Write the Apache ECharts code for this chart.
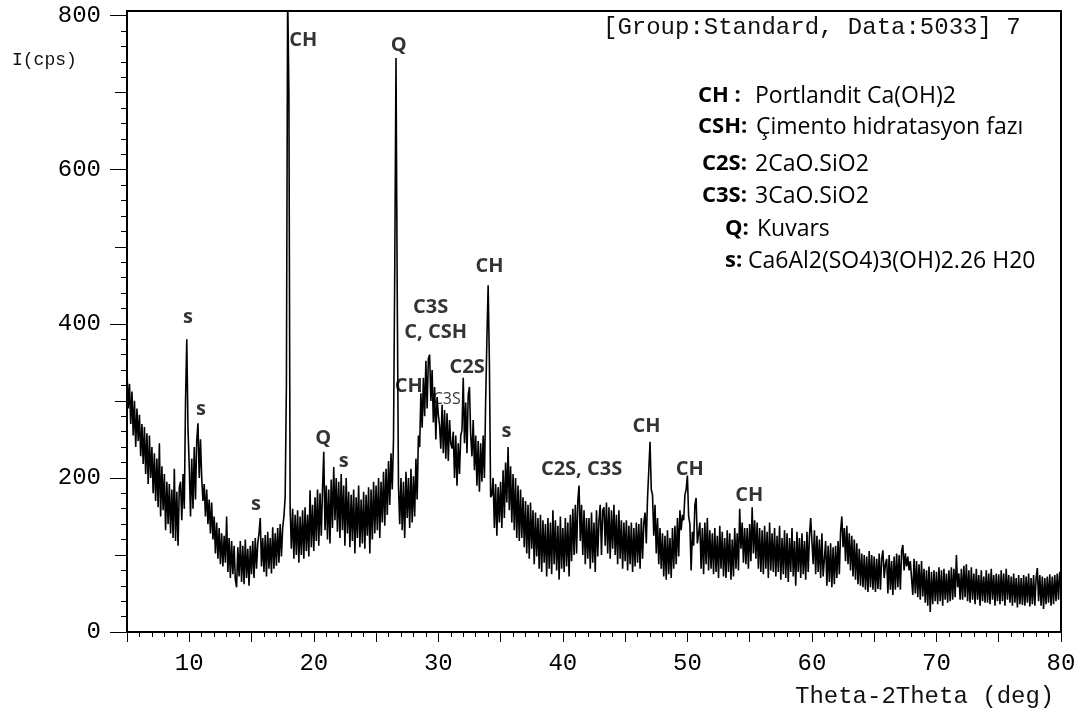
<!DOCTYPE html>
<html>
<head>
<meta charset="utf-8">
<title>XRD</title>
<script src="https://cdn.jsdelivr.net/npm/echarts@6/dist/echarts.min.js"></script>
<style>
html, body { margin: 0; padding: 0; background: #fff; }
#chart { width: 1080px; height: 713px; }
</style>
</head>
<body>
<div id="chart"></div>
<script>
// scan grid: start angle and step (deg)
var scanStart = 5;
var scanStep = 0.1;

// intensity (cps), one row per degree 5..79, then 80
var intensity = [
  338, 290, 322, 270, 312, 255, 300, 240, 290, 248,
  282, 228, 270, 218, 266, 205, 258, 192, 255, 200,
  240, 180, 232, 170, 225, 162, 245, 150, 215, 158,
  205, 132, 195, 140, 192, 128, 185, 122, 212, 118,
  182, 112, 188, 195, 145, 205, 160, 300, 380, 262,
  215, 150, 225, 160, 240, 172, 248, 271, 200, 250,
  200, 170, 192, 150, 185, 140, 172, 128, 168, 120,
  150, 102, 142, 95, 135, 88, 128, 85, 125, 90,
  150, 78, 122, 70, 118, 75, 112, 68, 58, 110,
  72, 118, 65, 112, 62, 120, 70, 108, 60, 112,
  75, 118, 70, 122, 82, 115, 128, 148, 85, 122,
  78, 126, 72, 130, 82, 122, 76, 136, 82, 128,
  86, 135, 90, 140, 98, 135, 150, 175, 320, 830,
  700, 160, 108, 160, 95, 152, 100, 158, 90, 150,
  100, 158, 95, 162, 105, 152, 98, 184, 110, 165,
  105, 175, 118, 185, 112, 180, 125, 185, 234, 132,
  190, 120, 185, 115, 198, 135, 214, 145, 200, 130,
  195, 122, 205, 132, 190, 112, 200, 128, 182, 110,
  178, 118, 185, 102, 175, 122, 190, 110, 172, 115,
  182, 108, 178, 125, 188, 102, 185, 120, 195, 128,
  190, 132, 200, 122, 195, 142, 208, 138, 212, 152,
  222, 165, 232, 185, 250, 470, 745, 440, 190, 140,
  200, 132, 195, 122, 208, 148, 200, 135, 212, 142,
  202, 150, 225, 172, 255, 240, 310, 265, 330, 280,
  352, 290, 355, 360, 300, 340, 272, 318, 250, 305,
  282, 268, 238, 295, 232, 288, 225, 284, 222, 275,
  245, 238, 260, 200, 255, 190, 245, 205, 255, 262,
  330, 245, 298, 232, 308, 318, 255, 228, 275, 210,
  255, 190, 248, 182, 245, 195, 255, 200, 300, 380,
  450, 350, 175, 178, 200, 135, 192, 125, 188, 142,
  195, 135, 210, 148, 220, 168, 240, 158, 215, 142,
  205, 132, 200, 122, 190, 118, 185, 122, 175, 110,
  170, 102, 165, 95, 168, 108, 158, 88, 155, 98,
  148, 82, 152, 78, 145, 90, 140, 72, 148, 82,
  142, 75, 158, 88, 145, 80, 138, 68, 150, 82,
  135, 78, 148, 85, 142, 72, 152, 92, 160, 100,
  165, 102, 170, 190, 118, 165, 100, 158, 88, 148,
  95, 148, 82, 155, 90, 142, 78, 158, 98, 145,
  165, 100, 158, 162, 112, 168, 102, 162, 95, 158,
  108, 165, 100, 152, 88, 158, 95, 145, 82, 142,
  92, 145, 80, 138, 88, 142, 78, 135, 85, 142,
  90, 140, 82, 148, 95, 142, 155, 115, 175, 210,
  247, 185, 178, 125, 165, 102, 148, 88, 135, 82,
  128, 72, 125, 68, 132, 75, 122, 70, 135, 82,
  138, 88, 148, 98, 158, 132, 152, 145, 178, 185,
  203, 150, 140, 80, 130, 112, 165, 174, 115, 128,
  142, 82, 135, 75, 142, 88, 148, 80, 132, 82,
  128, 75, 135, 78, 125, 70, 138, 82, 130, 72,
  122, 70, 132, 78, 128, 68, 120, 72, 135, 82,
  128, 80, 160, 108, 142, 90, 135, 88, 135, 82,
  140, 92, 162, 102, 145, 95, 142, 82, 135, 78,
  132, 75, 138, 82, 130, 70, 142, 80, 128, 78,
  135, 72, 125, 78, 138, 68, 122, 75, 132, 70,
  128, 65, 122, 78, 135, 72, 118, 60, 130, 78,
  122, 70, 128, 75, 118, 68, 130, 78, 125, 148,
  118, 88, 132, 75, 125, 78, 120, 70, 128, 72,
  70, 118, 60, 112, 65, 115, 58, 110, 62, 112,
  70, 118, 75, 130, 150, 110, 135, 92, 138, 88,
  128, 80, 125, 72, 120, 68, 115, 62, 108, 60,
  102, 58, 100, 55, 98, 52, 105, 58, 100, 55,
  98, 52, 95, 56, 102, 55, 95, 106, 70, 88,
  95, 50, 100, 55, 92, 48, 98, 55, 102, 58,
  100, 55, 105, 113, 80, 102, 85, 98, 80, 92,
  90, 48, 95, 50, 92, 45, 88, 42, 92, 46,
  82, 38, 80, 34, 85, 26, 78, 36, 80, 40,
  78, 36, 84, 40, 80, 34, 82, 42, 76, 38,
  80, 40, 84, 42, 82, 45, 100, 58, 76, 42,
  82, 42, 86, 45, 88, 40, 80, 38, 84, 42,
  76, 36, 82, 42, 74, 34, 80, 40, 72, 38,
  80, 38, 76, 36, 82, 42, 74, 34, 76, 40,
  75, 36, 80, 40, 76, 34, 82, 42, 74, 38,
  72, 34, 76, 38, 70, 32, 74, 36, 70, 35,
  74, 34, 72, 38, 76, 33, 70, 36, 74, 34,
  70, 83, 40, 74, 34, 72, 30, 70, 36, 72,
  38, 75, 34, 72, 36, 74, 40, 76, 42, 78,
  60
];

var xTickLabels = [10, 20, 30, 40, 50, 60, 70, 80];
var yTickLabels = [0, 200, 400, 600, 800];
var yMidTicks = [100, 300, 500, 700];

// phase marks on the peaks
var peakText = ['CH', 'Q', 's', 's', 's', 'Q', 's', 'C3S', 'C, CSH', 'CH', 'C2S', 'C3S', 'CH', 's', 'C2S, C3S', 'CH', 'CH', 'CH'];
var peakX = [19.16, 26.82, 9.89, 10.94, 15.35, 20.76, 22.41, 29.38, 29.79, 27.62, 32.31, 30.67, 34.12, 35.48, 41.5, 46.71, 50.2, 54.97];
var peakY = [768, 762, 408, 289, 166, 251, 222, 422, 389, 319, 343, 302, 474, 260, 211, 267, 211, 178];
var smallPeakIndex = 11;

var legendCodes = ['CH :', 'CSH:', 'C2S:', 'C3S:', 'Q:', 's:'];
var legendNames = ['Portlandit Ca(OH)2', 'Çimento hidratasyon fazı', '2CaO.SiO2', '3CaO.SiO2', 'Kuvars', 'Ca6Al2(SO4)3(OH)2.26 H20'];

var myChart = echarts.init(document.getElementById('chart'));

var points = intensity.map(function (v, i) {
  return [+(scanStart + i * scanStep).toFixed(1), v];
});

var labelData = peakText.map(function (t, i) {
  var item = { name: t, value: [peakX[i], peakY[i]] };
  if (i === smallPeakIndex) {
    item.label = { fontSize: 16, fontWeight: 'normal' };
  }
  return item;
});

var codeLeft = [698, 698, 702, 702, 725, 725];
var nameLeft = [755, 756, 755, 755, 757, 748];
var lineY = [96, 127, 164, 196, 229, 261];
var legendGraphics = [];
legendCodes.forEach(function (c, i) {
  legendGraphics.push({
    type: 'text', x: codeLeft[i], y: lineY[i],
    style: { text: c, font: 'bold 22px "Open Sans"', fill: '#000', verticalAlign: 'middle' }
  });
  legendGraphics.push({
    type: 'text', x: nameLeft[i], y: lineY[i],
    style: { text: legendNames[i], font: '23px "Open Sans"', fill: '#000', verticalAlign: 'middle' }
  });
});

var monoFont = '"Liberation Mono", monospace';

var option = {
  animation: false,
  backgroundColor: '#fff',
  grid: {
    left: 127, right: 19, top: 11, bottom: 81,
    show: true, borderColor: '#000', borderWidth: 2
  },
  xAxis: {
    type: 'value',
    min: 5, max: 80, interval: 5,
    axisLine: { lineStyle: { color: '#000', width: 2 } },
    axisTick: { length: 10, lineStyle: { color: '#000', width: 1 } },
    minorTick: { show: true, splitNumber: 5, length: 5, lineStyle: { color: '#000', width: 1 } },
    axisLabel: {
      customValues: xTickLabels,
      margin: 20, color: '#000', fontFamily: monoFont, fontSize: 24
    },
    splitLine: { show: false }
  },
  yAxis: [{
    type: 'value',
    min: 0, max: 806, interval: 200,
    position: 'left',
    axisLine: { lineStyle: { color: '#000', width: 2 } },
    axisTick: { customValues: yTickLabels, length: 17, lineStyle: { color: '#000', width: 1 } },
    minorTick: { show: true, splitNumber: 10, length: 6, lineStyle: { color: '#000', width: 1 } },
    axisLabel: {
      customValues: yTickLabels,
      margin: 26, color: '#000', fontFamily: monoFont, fontSize: 24
    },
    splitLine: { show: false }
  }, {
    type: 'value',
    min: 0, max: 806, interval: 100,
    position: 'left',
    axisLine: { show: false },
    axisTick: { customValues: yMidTicks, length: 12, lineStyle: { color: '#000', width: 1 } },
    axisLabel: { show: false },
    splitLine: { show: false }
  }],
  graphic: [
    {
      type: 'text', x: 603, y: 28,
      style: { text: '[Group:Standard, Data:5033] 7', font: '24px ' + monoFont, fill: '#111', verticalAlign: 'middle' }
    },
    {
      type: 'text', x: 12, y: 60,
      style: { text: 'I(cps)', font: '18px ' + monoFont, fill: '#111', verticalAlign: 'middle' }
    },
    {
      type: 'text', x: 795, y: 697,
      style: { text: 'Theta-2Theta (deg)', font: '24px ' + monoFont, fill: '#111', verticalAlign: 'middle' }
    }
  ].concat(legendGraphics),
  series: [{
    type: 'line',
    data: points,
    showSymbol: false,
    clip: true,
    lineStyle: { color: '#000', width: 1.6 },
    silent: true
  }, {
    type: 'scatter',
    data: labelData,
    symbolSize: 0,
    silent: true,
    z: 5,
    label: {
      show: true,
      position: 'inside',
      formatter: '{b}',
      color: '#000',
      fontFamily: '"Open Sans"',
      fontWeight: 'bold',
      fontSize: 20
    }
  }]
};

myChart.setOption(option);

window.addEventListener('resize', function () {
  myChart.resize();
});
</script>
</body>
</html>
